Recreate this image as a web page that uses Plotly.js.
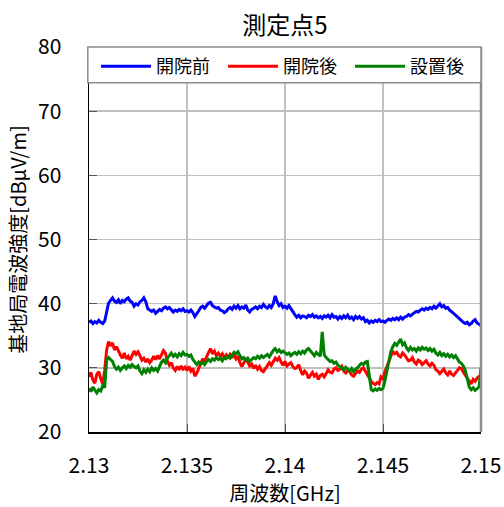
<!DOCTYPE html>
<html><head><meta charset="utf-8">
<script src="https://cdn.plot.ly/plotly-3.0.1.min.js"></script>
<style>html,body{margin:0;padding:0;background:#fff;}</style>
</head><body><div id="chart" style="width:504px;height:507px;"></div>
<script>
const fStart = 2.13;
const fStep = 0.0001;
const seriesNames = ["開院前", "開院後", "設置後"];
const seriesColors = ["#0000ff", "#ff0000", "#008000"];
const before = [
37.1,37.3,36.9,37.2,37.0,37.4,37.1,36.9,37.3,38.8,
40.1,40.5,40.9,40.4,40.2,40.6,40.0,40.5,40.3,40.7,
40.9,40.4,40.2,39.6,40.0,39.8,40.3,40.5,40.9,40.3,
39.2,39.0,38.8,39.0,38.5,38.8,39.1,38.9,39.3,39.5,
39.2,39.4,39.0,38.7,39.0,38.8,39.1,38.9,39.2,38.8,
38.9,38.7,39.0,38.6,38.0,38.4,38.9,39.4,39.6,39.3,
39.8,40.1,40.2,39.7,39.5,39.3,39.4,39.0,38.9,38.6,
38.8,39.2,39.4,39.1,39.6,39.3,39.7,39.2,39.5,39.3,
39.8,39.0,38.7,39.1,39.3,39.5,39.2,39.6,39.4,39.9,
39.5,39.3,39.7,39.4,40.0,41.2,40.3,39.7,40.0,39.4,
39.6,39.3,39.7,39.2,38.6,38.3,37.9,38.2,37.8,38.1,
38.0,37.8,38.2,38.0,38.3,37.9,38.1,37.8,38.0,37.7,
38.1,37.9,38.2,37.8,38.3,37.9,38.0,37.6,38.0,37.7,
38.1,37.8,38.2,37.7,37.9,37.5,38.0,37.7,38.0,37.6,
37.8,37.2,37.4,37.0,37.3,37.1,37.4,37.2,37.5,37.2,
37.3,37.1,37.4,37.6,37.4,37.7,37.5,37.8,37.5,37.9,
37.6,37.9,38.0,38.3,38.1,38.4,38.6,38.8,38.7,39.0,
39.2,39.0,39.3,39.1,39.4,39.2,39.6,39.3,39.7,40.0,
39.5,39.7,39.3,39.4,39.0,38.8,38.5,38.2,37.9,37.6,
37.4,37.1,36.9,37.1,36.7,36.9,37.3,37.5,37.0,36.8,
36.6
];
const after = [
28.6,29.3,28.1,27.6,29.0,29.4,28.3,27.5,29.6,32.8,
34.1,33.4,33.9,32.8,33.3,32.5,32.0,31.5,32.3,31.4,
31.8,31.2,32.0,32.6,32.1,32.5,31.9,31.2,31.5,30.9,
31.4,30.8,31.2,31.8,31.3,31.9,31.4,32.1,32.7,32.3,
31.0,30.4,30.8,30.0,29.6,30.2,29.7,30.3,29.8,30.1,
29.6,30.2,29.5,29.9,28.7,29.2,30.0,30.5,31.4,31.0,
31.8,32.4,33.0,32.2,32.6,31.9,32.3,31.8,32.2,31.6,
32.0,31.5,32.1,31.7,32.0,31.4,31.8,30.8,30.2,30.7,
31.4,30.9,30.3,30.6,29.9,30.4,29.8,30.2,29.6,29.4,
29.9,30.3,30.8,30.4,31.0,31.5,31.2,31.6,30.9,30.4,
31.0,30.3,30.6,30.8,30.2,29.9,30.0,30.5,29.6,28.9,
29.5,29.2,28.4,28.9,29.3,28.7,29.0,28.2,28.8,29.0,
28.6,29.1,29.7,29.3,29.2,29.8,30.0,29.6,29.8,30.2,
29.5,29.2,29.6,29.4,28.9,28.7,29.2,29.5,29.3,29.8,
30.0,29.5,28.8,28.3,27.9,27.6,27.4,27.7,27.5,28.6,
28.3,29.4,30.3,31.0,31.8,32.6,32.2,32.4,31.9,31.7,
32.3,32.0,31.5,31.1,31.2,31.6,30.9,30.6,31.2,31.0,
30.5,30.8,31.1,30.6,30.3,30.7,30.4,29.7,29.5,29.1,
29.4,29.8,29.2,28.9,29.5,29.0,28.8,29.3,29.6,30.0,
29.9,29.3,28.8,28.3,27.8,27.5,28.2,27.9,28.4,28.6,
28.9
];
const installed = [
26.8,26.3,27.0,26.5,26.1,26.6,26.4,27.2,26.9,31.2,
31.6,31.3,31.0,30.2,29.8,30.1,29.6,30.0,30.3,29.9,
30.4,30.1,30.5,30.2,30.0,30.3,29.5,29.1,29.7,29.3,
29.8,29.4,30.0,29.6,29.9,29.5,30.2,30.9,31.2,30.8,
31.5,31.9,32.3,31.8,32.1,31.7,32.2,31.9,32.4,32.0,
32.1,31.8,32.0,31.3,30.8,30.5,30.9,30.6,30.8,30.5,
31.0,31.3,31.0,31.4,31.2,31.6,31.3,31.5,31.1,31.6,
31.4,31.8,31.5,32.0,32.4,32.2,32.5,31.9,31.4,31.6,
31.2,31.5,31.0,31.3,31.6,31.4,31.8,31.5,31.9,31.6,
31.8,32.1,31.7,32.3,32.7,33.0,32.5,32.8,32.4,32.6,
32.4,32.1,32.3,31.9,32.2,32.4,32.1,32.5,32.2,32.6,
32.3,32.8,33.0,32.6,32.2,31.9,32.4,32.1,31.8,35.6,
32.0,31.6,31.3,31.0,31.1,30.7,30.9,30.4,30.2,30.0,
29.7,30.1,29.8,29.5,29.9,29.4,29.8,30.0,30.4,30.7,
30.5,30.9,31.0,28.5,26.6,26.4,26.7,26.5,26.8,26.6,
26.8,28.0,29.5,30.8,32.5,33.3,33.8,33.5,34.0,34.5,
33.6,33.9,33.1,32.7,33.2,32.8,33.0,32.6,33.1,32.8,
33.2,32.9,33.1,32.7,33.0,32.6,32.9,32.3,32.0,32.4,
31.9,32.2,31.8,32.1,31.7,32.0,31.6,31.9,31.4,30.9,
30.7,30.3,29.6,28.4,27.0,26.6,26.9,26.5,26.8,27.0,
30.0
];
const xTicks = [2.13, 2.135, 2.14, 2.145, 2.15];
const xTickText = ["2.13", "2.135", "2.14", "2.145", "2.15"];
const yTicks = [20, 30, 40, 50, 60, 70, 80];

const freq = before.map((_, i) => +(fStart + i * fStep).toFixed(4));
const seriesData = [before, after, installed];
const traces = seriesData.map((ys, k) => ({
  x: freq, y: ys, type: "scatter", mode: "lines",
  name: seriesNames[k], line: {color: seriesColors[k], width: 3}
}));

const FONT = "'Noto Sans CJK JP', 'Noto Sans', sans-serif";
const layout = {
  width: 504, height: 507,
  margin: {l: 89, r: 23, t: 47, b: 75},
  paper_bgcolor: "#fff", plot_bgcolor: "#fff",
  font: {family: FONT, color: "#000", size: 20},
  title: {text: "測定点5", x: 0.5, xref: "paper", y: 0.95, yanchor: "middle",
          font: {family: "'Noto Sans CJK JP', serif", size: 24, color: "#000"}},
  showlegend: true,
  legend: {orientation: "h", x: 0.018, y: 0.997, xanchor: "left", yanchor: "top",
           bgcolor: "rgba(0,0,0,0)", borderwidth: 0, entrywidth: 62,
           itemwidth: 50, font: {size: 18, family: FONT}},
  xaxis: {range: [2.13, 2.15], tickvals: xTicks, ticktext: xTickText,
          showgrid: true, gridcolor: "#c0c0c0", gridwidth: 1.5,
          zeroline: false, showline: true, linecolor: "#000", linewidth: 1.5,
          ticks: "inside", ticklen: 8, tickcolor: "#555", tickwidth: 1,
          ticklabelstandoff: 14, tickfont: {size: 21},
          title: {text: "周波数[GHz]", font: {size: 20}, standoff: 4}},
  yaxis: {range: [20, 80], tickvals: yTicks,
          showgrid: true, gridcolor: "#c0c0c0", gridwidth: 1.5,
          zeroline: false, showline: true, linecolor: "#000", linewidth: 1.5,
          ticks: "inside", ticklen: 8, tickcolor: "#555", tickwidth: 1,
          ticklabelstandoff: 22, tickfont: {size: 21},
          title: {text: "基地局電波強度[dBμV/m]", font: {size: 20}, standoff: 6}},
  shapes: [
    {type: "line", xref: "paper", yref: "paper", x0: 1, x1: 1, y0: 0, y1: 1,
     line: {color: "#8c8c8c", width: 2.5}, layer: "above"},
    {type: "rect", xref: "paper", yref: "paper", x0: -0.003, x1: 1, y0: 0.907, y1: 1.0,
     fillcolor: "#fff", line: {color: "#8c8c8c", width: 1.5}, layer: "above"}
  ]
};
Plotly.newPlot("chart", traces, layout, {displayModeBar: false, staticPlot: true});
</script></body></html>
